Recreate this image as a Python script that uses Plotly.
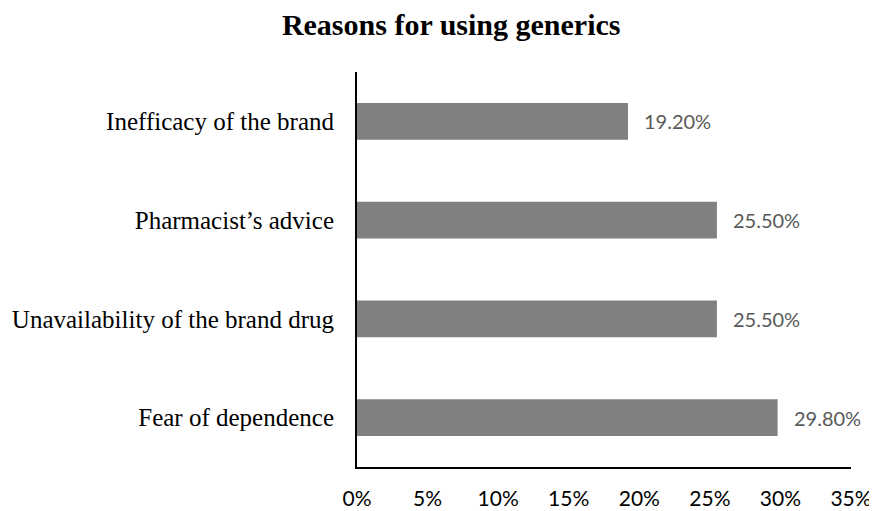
import plotly.graph_objects as go

categories = ["Fear of dependence", "Unavailability of the brand drug", "Pharmacist\u2019s advice", "Inefficacy of the brand"]
values = [29.8, 25.5, 25.5, 19.2]
value_labels = ["29.80%", "25.50%", "25.50%", "19.20%"]
x_ticks = [0, 5, 10, 15, 20, 25, 30, 35]
x_tick_labels = ["0%", "5%", "10%", "15%", "20%", "25%", "30%", "35%"]

fig = go.Figure(go.Bar(
    x=values, y=categories, orientation="h",
    marker=dict(color="#808080", line=dict(width=0)),
    hoverinfo="skip",
))

for v, c, t in zip(values, categories, value_labels):
    fig.add_annotation(x=v, y=c, text=t, showarrow=False, xanchor="left",
                       xshift=14, font=dict(family="Lato, Liberation Sans", size=20, color="#595959"))

# page body adds an 8px offset, so the figure is sized 8px smaller
fig.update_layout(
    width=869, height=503,
    margin=dict(l=349, r=26, t=64, b=44),
    paper_bgcolor="white", plot_bgcolor="white",
    bargap=0.63,
    showlegend=False,
    title=dict(text="<b>Reasons for using generics</b>", x=0.51, xanchor="center",
               y=0.968, yanchor="middle",
               font=dict(family="Liberation Serif, Times New Roman", size=30, color="black")),
    xaxis=dict(range=[0, 35], tickvals=x_ticks, ticktext=x_tick_labels, automargin=False,
               showgrid=False, zeroline=False, showline=True, linecolor="black", linewidth=2,
               ticks="", ticklabelstandoff=12,
               tickfont=dict(family="Lato, Liberation Sans", size=21, color="black")),
    yaxis=dict(categoryorder="array", categoryarray=categories, automargin=False,
               showgrid=False, zeroline=False, showline=True, linecolor="black", linewidth=2,
               ticks="", ticklabelstandoff=16,
               tickfont=dict(family="Liberation Serif, Times New Roman", size=25, color="black")),
)

fig.write_html("out.html")
